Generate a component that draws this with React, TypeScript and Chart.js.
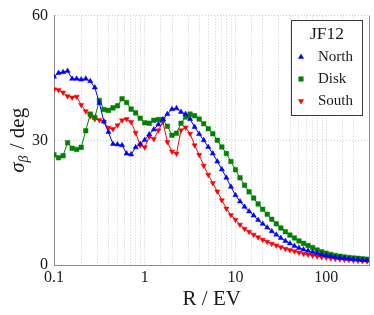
import React, { useEffect, useRef } from "react";
import { Chart, registerables } from "chart.js";
import { drawPoint } from "chart.js/helpers";

Chart.register(...registerables);

// Rigidity grid (log-spaced, 20 points per decade)
const rigidity = [
  0.1, 0.1122, 0.1259, 0.1413, 0.1585, 0.1778, 0.1995, 0.2239, 0.2512, 0.2818,
  0.3162, 0.3548, 0.3981, 0.4467, 0.5012, 0.5623, 0.631, 0.7079, 0.7943, 0.8913,
  1, 1.122, 1.259, 1.413, 1.585, 1.778, 1.995, 2.239, 2.512, 2.818,
  3.162, 3.548, 3.981, 4.467, 5.012, 5.623, 6.31, 7.079, 7.943, 8.913,
  10, 11.22, 12.59, 14.13, 15.85, 17.78, 19.95, 22.39, 25.12, 28.18,
  31.62, 35.48, 39.81, 44.67, 50.12, 56.23, 63.1, 70.79, 79.43, 89.13,
  100, 112.2, 125.9, 141.3, 158.5, 177.8, 199.5, 223.9, 251.2, 281.8,
];

const north = [
  45.3, 46.2, 46.4, 46.7, 44.8, 44.8, 44.6, 44.8, 44.2, 42.7,
  39.0, 34.5, 32.0, 29.1, 29.0, 28.8, 26.8, 26.6, 28.3, 29.1,
  30.1, 31.4, 32.6, 33.8, 35.0, 36.3, 37.5, 37.7, 36.8, 36.3,
  35.1, 33.2, 31.5, 30.0, 28.4, 26.8, 24.9, 23.0, 21.0, 18.8,
  16.8, 15.3, 14.0, 12.9, 11.9, 10.8, 9.9, 9.0, 8.1, 7.3,
  6.5, 5.8, 5.2, 4.6, 4.1, 3.7, 3.4, 3.1, 2.8, 2.5,
  2.3, 2.1, 1.9, 1.75, 1.6, 1.5, 1.4, 1.3, 1.2, 1.1,
];

const disk = [
  26.5, 25.8, 26.3, 29.4, 28.1, 27.8, 28.3, 32.3, 36.3, 35.5,
  39.6, 37.4, 37.2, 37.8, 38.3, 40.0, 39.1, 37.5, 36.6, 35.3,
  34.2, 34.1, 34.8, 35.0, 35.0, 33.4, 31.2, 31.7, 34.1, 35.6,
  36.3, 35.9, 35.1, 34.0, 32.8, 31.6, 30.0, 28.4, 26.8, 24.9,
  22.9, 21.0, 19.2, 17.6, 16.1, 14.7, 13.4, 12.2, 11.0, 9.9,
  8.9, 8.0, 7.2, 6.5, 5.8, 5.2, 4.7, 4.2, 3.6, 3.2,
  2.85, 2.55, 2.3, 2.1, 1.95, 1.8, 1.7, 1.6, 1.5, 1.4,
];

const south = [
  42.3, 42.1, 41.5, 40.6, 40.3, 40.5, 38.5, 37.0, 35.8, 35.1,
  34.9, 34.5, 33.0, 32.7, 33.6, 34.8, 35.1, 34.4, 31.8, 28.8,
  28.3, 30.9, 30.3, 32.4, 34.4, 29.6, 27.3, 26.8, 32.4, 33.1,
  31.6, 28.8, 26.5, 23.9, 21.7, 19.7, 17.7, 15.6, 13.6, 12.0,
  10.9, 9.7, 8.7, 8.0, 7.3, 6.7, 6.1, 5.6, 5.1, 4.7,
  4.3, 3.9, 3.6, 3.3, 3.0, 2.7, 2.5, 2.3, 2.1, 1.95,
  1.8, 1.65, 1.5, 1.4, 1.3, 1.2, 1.1, 1.0, 0.95, 0.9,
];

const xTickLabels = [0.1, 1, 10, 100];
const yTickValues = [0, 30, 60];
const seriesNames = ["North", "Disk", "South"];
const legendTitle = "JF12";
const xTitle = "R / EV";

const SERIF = "'Liberation Serif', 'DejaVu Serif', serif";
const TEXT = "#1a1a1a";

export default function App() {
  const ref = useRef<HTMLCanvasElement>(null);

  useEffect(() => {
    document.body.style.margin = "0";
    const canvas = ref.current;
    if (!canvas) return;

    const mk = (
      label: string,
      values: number[],
      color: string,
      style: string,
      rotation: number,
      radius: number
    ) => ({
      label,
      data: values.map((v, i) => ({ x: rigidity[i], y: v })),
      borderColor: color,
      backgroundColor: color,
      borderWidth: 1,
      pointStyle: style,
      pointRotation: rotation,
      pointRadius: radius,
      pointBorderWidth: 0.5,
      pointBorderColor: color,
      pointBackgroundColor: color,
      tension: 0,
    });

    const deco = {
      id: "deco",
      afterDraw(chart: any) {
        const ctx = chart.ctx as CanvasRenderingContext2D;
        const a = chart.chartArea;
        ctx.save();
        // right frame line
        ctx.setLineDash([]);
        ctx.strokeStyle = "#8c8c8c";
        ctx.lineWidth = 1;
        ctx.beginPath();
        ctx.moveTo(Math.round(a.right) - 0.5, a.top);
        ctx.lineTo(Math.round(a.right) - 0.5, a.bottom);
        ctx.stroke();

        // x title
        ctx.fillStyle = TEXT;
        ctx.font = `21px ${SERIF}`;
        ctx.textAlign = "center";
        ctx.textBaseline = "alphabetic";
        ctx.fillText(xTitle, (a.left + a.right) / 2, 305);

        // y title: sigma_beta / deg
        ctx.save();
        ctx.translate(24, (a.top + a.bottom) / 2);
        ctx.rotate(-Math.PI / 2);
        ctx.textAlign = "left";
        const fSig = `italic 21px ${SERIF}`;
        const fSub = `italic 14px ${SERIF}`;
        const fRest = `21px ${SERIF}`;
        ctx.font = fSig;
        const wSig = ctx.measureText("σ").width;
        ctx.font = fSub;
        const wSub = ctx.measureText("β").width;
        ctx.font = fRest;
        const rest = " / deg";
        const wRest = ctx.measureText(rest).width;
        let x = -(wSig + wSub + 1 + wRest) / 2;
        ctx.font = fSig;
        ctx.fillText("σ", x, 0);
        x += wSig;
        ctx.font = fSub;
        ctx.fillText("β", x, 4);
        x += wSub + 1;
        ctx.font = fRest;
        ctx.fillText(rest, x, 0);
        ctx.restore();

        // legend
        const lx = 291.5, ly = 20.5, lw = 71, lh = 95;
        ctx.fillStyle = "#ffffff";
        ctx.fillRect(lx, ly, lw, lh);
        ctx.strokeStyle = "#3a3a3a";
        ctx.lineWidth = 1;
        ctx.strokeRect(lx, ly, lw, lh);
        ctx.fillStyle = TEXT;
        ctx.font = `17.5px ${SERIF}`;
        ctx.textAlign = "center";
        ctx.textBaseline = "middle";
        ctx.fillText(legendTitle, lx + lw / 2, 34);
        ctx.font = `15px ${SERIF}`;
        ctx.textAlign = "left";
        chart.data.datasets.forEach((ds: any, i: number) => {
          const yy = 57 + 22 * i;
          ctx.fillStyle = ds.backgroundColor;
          ctx.strokeStyle = ds.borderColor;
          ctx.lineWidth = 0.5;
          drawPoint(
            ctx,
            {
              pointStyle: ds.pointStyle,
              rotation: ds.pointRotation,
              radius: ds.pointRadius,
              borderWidth: 0.5,
            } as any,
            301,
            yy
          );
          ctx.fillStyle = TEXT;
          ctx.fillText(ds.label, 318, yy);
        });
        ctx.restore();
      },
    };

    const chart = new Chart(canvas, {
      type: "line",
      data: {
        datasets: [
          mk(seriesNames[0], north, "#0000ff", "triangle", 0, 3),
          mk(seriesNames[1], disk, "#008000", "rect", 0, 3.2),
          mk(seriesNames[2], south, "#ff0000", "triangle", 180, 3),
        ] as any,
      },
      options: {
        responsive: false,
        animation: false,
        events: [],
        layout: { padding: { top: 12, right: 4, left: 0, bottom: 0 } },
        plugins: {
          legend: { display: false },
          tooltip: { enabled: false },
        },
        scales: {
          x: {
            type: "logarithmic",
            min: 0.1,
            max: 300,
            afterFit: (s: any) => {
              s.height = 50;
            },
            afterBuildTicks: (s: any) => {
              s.ticks = s.ticks.filter((t: any) => t.value <= 300);
            },
            ticks: {
              autoSkip: false,
              maxRotation: 0,
              minRotation: 0,
              padding: 3,
              color: TEXT,
              font: { family: SERIF, size: 16 },
              callback: (v: any) => {
                const n = Number(v);
                const hit = xTickLabels.find((t) => Math.abs(t - n) < 1e-9 * Math.max(1, t));
                return hit !== undefined ? String(hit) : "";
              },
            },
            grid: {
              color: "#cfcfcf",
              lineWidth: 1,
              drawTicks: false,
            },
            border: { display: true, color: "#8c8c8c", width: 1, dash: [1, 2] },
          },
          y: {
            type: "linear",
            min: 0,
            max: 60,
            afterFit: (s: any) => {
              s.width = 54;
            },
            afterBuildTicks: (s: any) => {
              s.ticks = yTickValues.map((v) => ({ value: v }));
            },
            ticks: {
              padding: 6,
              color: TEXT,
              font: { family: SERIF, size: 16 },
            },
            grid: {
              color: "#cfcfcf",
              lineWidth: 1,
              drawTicks: false,
            },
            border: { display: true, color: "#8c8c8c", width: 1, dash: [1, 2] },
          },
        },
      },
      plugins: [deco],
    });

    return () => chart.destroy();
  }, []);

  return (
    <div style={{ width: 374, height: 315, background: "#fff" }}>
      <canvas ref={ref} width={374} height={315} style={{ display: "block" }} />
    </div>
  );
}
